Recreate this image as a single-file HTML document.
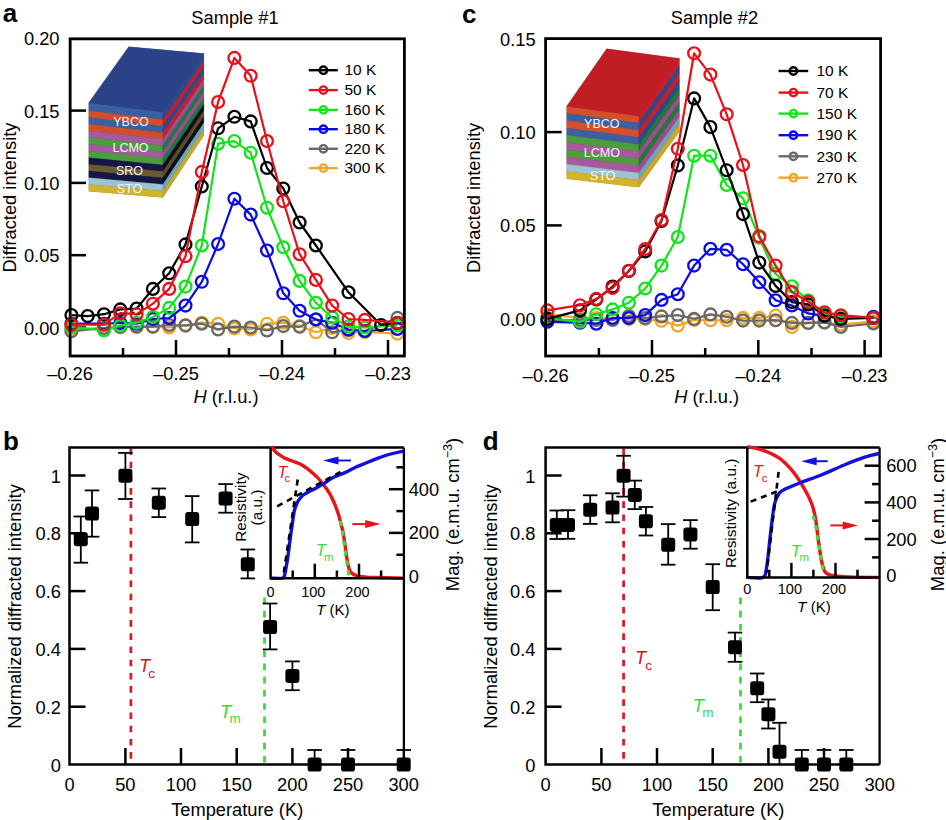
<!DOCTYPE html><html><head><meta charset="utf-8"><style>html,body{margin:0;padding:0;background:#fff;overflow:hidden}svg{display:block}text{font-family:"Liberation Sans",sans-serif}</style></head><body>
<svg width="946" height="820" viewBox="0 0 946 820">
<rect width="946" height="820" fill="#fff"/>
<text x="2.8" y="22.3" font-size="26" font-weight="bold">a</text>
<text x="235" y="24" font-size="18.3" text-anchor="middle">Sample #1</text>
<polygon points="88.8,102.8 128.7,46.8 203.8,53.6 203.8,135.5 162.9,197.4 88.8,191.2" fill="#2c4a8d" stroke="#fff" stroke-width="0.3"/>
<polygon points="88.8,102.8 162.9,112.1 162.9,119.8 88.8,110.8" fill="#3a60a2" stroke="#3a60a2" stroke-width="0.3"/>
<polygon points="162.9,112.1 203.8,53.6 203.8,61.0 162.9,119.8" fill="#2c4a8d" stroke="#2c4a8d" stroke-width="0.3"/>
<polygon points="88.8,110.8 162.9,119.8 162.9,126.3 88.8,117.5" fill="#d24e26" stroke="#d24e26" stroke-width="0.3"/>
<polygon points="162.9,119.8 203.8,61.0 203.8,67.2 162.9,126.3" fill="#c4202c" stroke="#c4202c" stroke-width="0.3"/>
<polygon points="88.8,117.5 162.9,126.3 162.9,132.7 88.8,124.2" fill="#3a60a2" stroke="#3a60a2" stroke-width="0.3"/>
<polygon points="162.9,126.3 203.8,67.2 203.8,73.4 162.9,132.7" fill="#2c4a8d" stroke="#2c4a8d" stroke-width="0.3"/>
<polygon points="88.8,124.2 162.9,132.7 162.9,139.2 88.8,130.9" fill="#d24e26" stroke="#d24e26" stroke-width="0.3"/>
<polygon points="162.9,132.7 203.8,73.4 203.8,79.6 162.9,139.2" fill="#c4202c" stroke="#c4202c" stroke-width="0.3"/>
<polygon points="88.8,130.9 162.9,139.2 162.9,145.7 88.8,137.6" fill="#a65a9e" stroke="#a65a9e" stroke-width="0.3"/>
<polygon points="162.9,139.2 203.8,79.6 203.8,85.8 162.9,145.7" fill="#9e4b91" stroke="#9e4b91" stroke-width="0.3"/>
<polygon points="88.8,137.6 162.9,145.7 162.9,152.1 88.8,144.3" fill="#4a9e3c" stroke="#4a9e3c" stroke-width="0.3"/>
<polygon points="162.9,145.7 203.8,85.8 203.8,92.0 162.9,152.1" fill="#1c7a3a" stroke="#1c7a3a" stroke-width="0.3"/>
<polygon points="88.8,144.3 162.9,152.1 162.9,158.6 88.8,151.0" fill="#a65a9e" stroke="#a65a9e" stroke-width="0.3"/>
<polygon points="162.9,152.1 203.8,92.0 203.8,98.3 162.9,158.6" fill="#9e4b91" stroke="#9e4b91" stroke-width="0.3"/>
<polygon points="88.8,151.0 162.9,158.6 162.9,165.1 88.8,157.7" fill="#4a9e3c" stroke="#4a9e3c" stroke-width="0.3"/>
<polygon points="162.9,158.6 203.8,98.3 203.8,104.5 162.9,165.1" fill="#1c7a3a" stroke="#1c7a3a" stroke-width="0.3"/>
<polygon points="88.8,157.7 162.9,165.1 162.9,171.5 88.8,164.4" fill="#161642" stroke="#161642" stroke-width="0.3"/>
<polygon points="162.9,165.1 203.8,104.5 203.8,110.7 162.9,171.5" fill="#0b0b1a" stroke="#0b0b1a" stroke-width="0.3"/>
<polygon points="88.8,164.4 162.9,171.5 162.9,178.0 88.8,171.1" fill="#6b5a2c" stroke="#6b5a2c" stroke-width="0.3"/>
<polygon points="162.9,171.5 203.8,110.7 203.8,116.9 162.9,178.0" fill="#5c4a25" stroke="#5c4a25" stroke-width="0.3"/>
<polygon points="88.8,171.1 162.9,178.0 162.9,184.5 88.8,177.8" fill="#161642" stroke="#161642" stroke-width="0.3"/>
<polygon points="162.9,178.0 203.8,116.9 203.8,123.1 162.9,184.5" fill="#0b0b1a" stroke="#0b0b1a" stroke-width="0.3"/>
<polygon points="88.8,177.8 162.9,184.5 162.9,190.9 88.8,184.5" fill="#9bc4d0" stroke="#9bc4d0" stroke-width="0.3"/>
<polygon points="162.9,184.5 203.8,123.1 203.8,129.3 162.9,190.9" fill="#6ea5b8" stroke="#6ea5b8" stroke-width="0.3"/>
<polygon points="88.8,184.5 162.9,190.9 162.9,197.4 88.8,191.2" fill="#d2b42c" stroke="#d2b42c" stroke-width="0.3"/>
<polygon points="162.9,190.9 203.8,129.3 203.8,135.5 162.9,197.4" fill="#c9a82a" stroke="#c9a82a" stroke-width="0.3"/>
<polygon points="88.8,102.8 128.7,46.8 203.8,53.6 162.9,112.1" fill="#2b4289" stroke="#2b4289" stroke-width="0.3"/>
<text x="131" y="125.5" font-size="12.5" text-anchor="middle" fill="#f4f6ff">YBCO</text>
<text x="130.5" y="152" font-size="12.5" text-anchor="middle" fill="#f4f6ff">LCMO</text>
<text x="129.5" y="175" font-size="12.5" text-anchor="middle" fill="#f4f6ff">SRO</text>
<text x="129.5" y="193" font-size="12.5" text-anchor="middle" fill="#f4f6ff">STO</text>
<line x1="308.8" y1="70.2" x2="337.8" y2="70.2" stroke="#000" stroke-width="2.4"/>
<circle cx="323.4" cy="70.2" r="3.7" fill="none" stroke="#000" stroke-width="2.4"/>
<text x="344.5" y="75.4" font-size="15.5">10 K</text>
<line x1="308.8" y1="90.1" x2="337.8" y2="90.1" stroke="#e8101a" stroke-width="2.4"/>
<circle cx="323.4" cy="90.1" r="3.7" fill="none" stroke="#e8101a" stroke-width="2.4"/>
<text x="344.5" y="95.3" font-size="15.5">50 K</text>
<line x1="308.8" y1="109.9" x2="337.8" y2="109.9" stroke="#12e41a" stroke-width="2.4"/>
<circle cx="323.4" cy="109.9" r="3.7" fill="none" stroke="#12e41a" stroke-width="2.4"/>
<text x="344.5" y="115.10000000000001" font-size="15.5">160 K</text>
<line x1="308.8" y1="129.2" x2="337.8" y2="129.2" stroke="#0a0ae6" stroke-width="2.4"/>
<circle cx="323.4" cy="129.2" r="3.7" fill="none" stroke="#0a0ae6" stroke-width="2.4"/>
<text x="344.5" y="134.39999999999998" font-size="15.5">180 K</text>
<line x1="308.8" y1="148.8" x2="337.8" y2="148.8" stroke="#686868" stroke-width="2.4"/>
<circle cx="323.4" cy="148.8" r="3.7" fill="none" stroke="#686868" stroke-width="2.4"/>
<text x="344.5" y="154.0" font-size="15.5">220 K</text>
<line x1="308.8" y1="168.1" x2="337.8" y2="168.1" stroke="#f2a526" stroke-width="2.4"/>
<circle cx="323.4" cy="168.1" r="3.7" fill="none" stroke="#f2a526" stroke-width="2.4"/>
<text x="344.5" y="173.29999999999998" font-size="15.5">300 K</text>
<rect x="70.1" y="38.9" width="334.2" height="317.1" fill="none" stroke="#000" stroke-width="2.5"/>
<line x1="70.1" y1="327.5" x2="86.1" y2="327.5" stroke="#000" stroke-width="2.5"/>
<text x="59.5" y="334.5" font-size="18.3" text-anchor="end">0.00</text>
<line x1="70.1" y1="255.2" x2="86.1" y2="255.2" stroke="#000" stroke-width="2.5"/>
<text x="59.5" y="262.2" font-size="18.3" text-anchor="end">0.05</text>
<line x1="70.1" y1="182.9" x2="86.1" y2="182.9" stroke="#000" stroke-width="2.5"/>
<text x="59.5" y="189.9" font-size="18.3" text-anchor="end">0.10</text>
<line x1="70.1" y1="110.6" x2="86.1" y2="110.6" stroke="#000" stroke-width="2.5"/>
<text x="59.5" y="117.6" font-size="18.3" text-anchor="end">0.15</text>
<text x="59.5" y="45.30000000000001" font-size="18.3" text-anchor="end">0.20</text>
<text x="70" y="380" font-size="18.3" text-anchor="middle">–0.26</text>
<line x1="123.0" y1="356.0" x2="123.0" y2="348.0" stroke="#000" stroke-width="2.5"/>
<line x1="176.0" y1="356.0" x2="176.0" y2="340.0" stroke="#000" stroke-width="2.5"/>
<text x="176" y="380" font-size="18.3" text-anchor="middle">–0.25</text>
<line x1="229.0" y1="356.0" x2="229.0" y2="348.0" stroke="#000" stroke-width="2.5"/>
<line x1="282.0" y1="356.0" x2="282.0" y2="340.0" stroke="#000" stroke-width="2.5"/>
<text x="282" y="380" font-size="18.3" text-anchor="middle">–0.24</text>
<line x1="335.0" y1="356.0" x2="335.0" y2="348.0" stroke="#000" stroke-width="2.5"/>
<line x1="388.0" y1="356.0" x2="388.0" y2="340.0" stroke="#000" stroke-width="2.5"/>
<text x="388" y="380" font-size="18.3" text-anchor="middle">–0.23</text>
<g stroke="#f2a526" fill="none"><polyline points="71.4,329.0 104.0,328.0 120.3,327.0 136.6,327.0 152.9,327.0 169.2,327.5 185.5,325.0 201.8,322.7 218.1,323.7 234.4,328.5 250.7,329.5 267.0,323.7 283.3,322.7 299.6,326.0 315.9,332.3 332.2,328.0 348.5,333.0 364.8,332.0 397.4,333.7" stroke-width="2.2" stroke-linejoin="round"/>
<circle cx="71.4" cy="329.0" r="5.9" stroke-width="2.3"/>
<circle cx="104.0" cy="328.0" r="5.9" stroke-width="2.3"/>
<circle cx="120.3" cy="327.0" r="5.9" stroke-width="2.3"/>
<circle cx="136.6" cy="327.0" r="5.9" stroke-width="2.3"/>
<circle cx="152.9" cy="327.0" r="5.9" stroke-width="2.3"/>
<circle cx="169.2" cy="327.5" r="5.9" stroke-width="2.3"/>
<circle cx="185.5" cy="325.0" r="5.9" stroke-width="2.3"/>
<circle cx="201.8" cy="322.7" r="5.9" stroke-width="2.3"/>
<circle cx="218.1" cy="323.7" r="5.9" stroke-width="2.3"/>
<circle cx="234.4" cy="328.5" r="5.9" stroke-width="2.3"/>
<circle cx="250.7" cy="329.5" r="5.9" stroke-width="2.3"/>
<circle cx="267.0" cy="323.7" r="5.9" stroke-width="2.3"/>
<circle cx="283.3" cy="322.7" r="5.9" stroke-width="2.3"/>
<circle cx="299.6" cy="326.0" r="5.9" stroke-width="2.3"/>
<circle cx="315.9" cy="332.3" r="5.9" stroke-width="2.3"/>
<circle cx="332.2" cy="328.0" r="5.9" stroke-width="2.3"/>
<circle cx="348.5" cy="333.0" r="5.9" stroke-width="2.3"/>
<circle cx="364.8" cy="332.0" r="5.9" stroke-width="2.3"/>
<circle cx="397.4" cy="333.7" r="5.9" stroke-width="2.3"/>
</g>
<g stroke="#686868" fill="none"><polyline points="71.4,331.3 104.0,328.0 120.3,327.0 136.6,326.5 152.9,326.6 169.2,325.0 185.5,325.6 201.8,323.7 218.1,329.4 234.4,326.6 250.7,327.5 267.0,330.4 283.3,326.1 299.6,326.8 315.9,319.2 332.2,332.3 348.5,330.0 364.8,331.0 397.4,317.9" stroke-width="2.2" stroke-linejoin="round"/>
<circle cx="71.4" cy="331.3" r="5.9" stroke-width="2.3"/>
<circle cx="104.0" cy="328.0" r="5.9" stroke-width="2.3"/>
<circle cx="120.3" cy="327.0" r="5.9" stroke-width="2.3"/>
<circle cx="136.6" cy="326.5" r="5.9" stroke-width="2.3"/>
<circle cx="152.9" cy="326.6" r="5.9" stroke-width="2.3"/>
<circle cx="169.2" cy="325.0" r="5.9" stroke-width="2.3"/>
<circle cx="185.5" cy="325.6" r="5.9" stroke-width="2.3"/>
<circle cx="201.8" cy="323.7" r="5.9" stroke-width="2.3"/>
<circle cx="218.1" cy="329.4" r="5.9" stroke-width="2.3"/>
<circle cx="234.4" cy="326.6" r="5.9" stroke-width="2.3"/>
<circle cx="250.7" cy="327.5" r="5.9" stroke-width="2.3"/>
<circle cx="267.0" cy="330.4" r="5.9" stroke-width="2.3"/>
<circle cx="283.3" cy="326.1" r="5.9" stroke-width="2.3"/>
<circle cx="299.6" cy="326.8" r="5.9" stroke-width="2.3"/>
<circle cx="315.9" cy="319.2" r="5.9" stroke-width="2.3"/>
<circle cx="332.2" cy="332.3" r="5.9" stroke-width="2.3"/>
<circle cx="348.5" cy="330.0" r="5.9" stroke-width="2.3"/>
<circle cx="364.8" cy="331.0" r="5.9" stroke-width="2.3"/>
<circle cx="397.4" cy="317.9" r="5.9" stroke-width="2.3"/>
</g>
<g stroke="#0a0ae6" fill="none"><polyline points="71.4,323.7 104.0,323.7 120.3,323.0 136.6,323.7 152.9,319.0 169.2,318.0 185.5,305.6 201.8,281.8 218.1,244.0 234.4,198.7 250.7,214.6 267.0,250.5 283.3,293.3 299.6,310.8 315.9,319.5 332.2,322.8 348.5,329.5 364.8,331.0 397.4,328.9" stroke-width="2.2" stroke-linejoin="round"/>
<circle cx="71.4" cy="323.7" r="5.9" stroke-width="2.3"/>
<circle cx="104.0" cy="323.7" r="5.9" stroke-width="2.3"/>
<circle cx="120.3" cy="323.0" r="5.9" stroke-width="2.3"/>
<circle cx="136.6" cy="323.7" r="5.9" stroke-width="2.3"/>
<circle cx="152.9" cy="319.0" r="5.9" stroke-width="2.3"/>
<circle cx="169.2" cy="318.0" r="5.9" stroke-width="2.3"/>
<circle cx="185.5" cy="305.6" r="5.9" stroke-width="2.3"/>
<circle cx="201.8" cy="281.8" r="5.9" stroke-width="2.3"/>
<circle cx="218.1" cy="244.0" r="5.9" stroke-width="2.3"/>
<circle cx="234.4" cy="198.7" r="5.9" stroke-width="2.3"/>
<circle cx="250.7" cy="214.6" r="5.9" stroke-width="2.3"/>
<circle cx="267.0" cy="250.5" r="5.9" stroke-width="2.3"/>
<circle cx="283.3" cy="293.3" r="5.9" stroke-width="2.3"/>
<circle cx="299.6" cy="310.8" r="5.9" stroke-width="2.3"/>
<circle cx="315.9" cy="319.5" r="5.9" stroke-width="2.3"/>
<circle cx="332.2" cy="322.8" r="5.9" stroke-width="2.3"/>
<circle cx="348.5" cy="329.5" r="5.9" stroke-width="2.3"/>
<circle cx="364.8" cy="331.0" r="5.9" stroke-width="2.3"/>
<circle cx="397.4" cy="328.9" r="5.9" stroke-width="2.3"/>
</g>
<g stroke="#12e41a" fill="none"><polyline points="71.4,327.0 104.0,330.4 120.3,325.6 136.6,322.7 152.9,317.0 169.2,307.9 185.5,286.6 201.8,245.5 218.1,143.7 234.4,141.1 250.7,152.7 267.0,207.7 283.3,247.3 299.6,280.9 315.9,302.8 332.2,317.5 348.5,326.5 364.8,327.5 397.4,325.4" stroke-width="2.2" stroke-linejoin="round"/>
<circle cx="71.4" cy="327.0" r="5.9" stroke-width="2.3"/>
<circle cx="104.0" cy="330.4" r="5.9" stroke-width="2.3"/>
<circle cx="120.3" cy="325.6" r="5.9" stroke-width="2.3"/>
<circle cx="136.6" cy="322.7" r="5.9" stroke-width="2.3"/>
<circle cx="152.9" cy="317.0" r="5.9" stroke-width="2.3"/>
<circle cx="169.2" cy="307.9" r="5.9" stroke-width="2.3"/>
<circle cx="185.5" cy="286.6" r="5.9" stroke-width="2.3"/>
<circle cx="201.8" cy="245.5" r="5.9" stroke-width="2.3"/>
<circle cx="218.1" cy="143.7" r="5.9" stroke-width="2.3"/>
<circle cx="234.4" cy="141.1" r="5.9" stroke-width="2.3"/>
<circle cx="250.7" cy="152.7" r="5.9" stroke-width="2.3"/>
<circle cx="267.0" cy="207.7" r="5.9" stroke-width="2.3"/>
<circle cx="283.3" cy="247.3" r="5.9" stroke-width="2.3"/>
<circle cx="299.6" cy="280.9" r="5.9" stroke-width="2.3"/>
<circle cx="315.9" cy="302.8" r="5.9" stroke-width="2.3"/>
<circle cx="332.2" cy="317.5" r="5.9" stroke-width="2.3"/>
<circle cx="348.5" cy="326.5" r="5.9" stroke-width="2.3"/>
<circle cx="364.8" cy="327.5" r="5.9" stroke-width="2.3"/>
<circle cx="397.4" cy="325.4" r="5.9" stroke-width="2.3"/>
</g>
<g stroke="#000" fill="none"><polyline points="71.4,315.1 87.7,316.1 104.0,314.2 120.3,309.4 136.6,308.5 152.9,288.9 169.2,273.3 185.5,244.4 201.8,186.5 218.1,128.3 234.4,116.8 250.7,121.4 267.0,168.0 283.3,188.5 299.6,222.5 315.9,245.5 348.5,292.3 381.1,325.0 397.4,323.0" stroke-width="2.2" stroke-linejoin="round"/>
<circle cx="71.4" cy="315.1" r="5.9" stroke-width="2.3"/>
<circle cx="87.7" cy="316.1" r="5.9" stroke-width="2.3"/>
<circle cx="104.0" cy="314.2" r="5.9" stroke-width="2.3"/>
<circle cx="120.3" cy="309.4" r="5.9" stroke-width="2.3"/>
<circle cx="136.6" cy="308.5" r="5.9" stroke-width="2.3"/>
<circle cx="152.9" cy="288.9" r="5.9" stroke-width="2.3"/>
<circle cx="169.2" cy="273.3" r="5.9" stroke-width="2.3"/>
<circle cx="185.5" cy="244.4" r="5.9" stroke-width="2.3"/>
<circle cx="201.8" cy="186.5" r="5.9" stroke-width="2.3"/>
<circle cx="218.1" cy="128.3" r="5.9" stroke-width="2.3"/>
<circle cx="234.4" cy="116.8" r="5.9" stroke-width="2.3"/>
<circle cx="250.7" cy="121.4" r="5.9" stroke-width="2.3"/>
<circle cx="267.0" cy="168.0" r="5.9" stroke-width="2.3"/>
<circle cx="283.3" cy="188.5" r="5.9" stroke-width="2.3"/>
<circle cx="299.6" cy="222.5" r="5.9" stroke-width="2.3"/>
<circle cx="315.9" cy="245.5" r="5.9" stroke-width="2.3"/>
<circle cx="348.5" cy="292.3" r="5.9" stroke-width="2.3"/>
<circle cx="381.1" cy="325.0" r="5.9" stroke-width="2.3"/>
<circle cx="397.4" cy="323.0" r="5.9" stroke-width="2.3"/>
</g>
<g stroke="#e8101a" fill="none"><polyline points="71.4,324.7 104.0,324.7 120.3,313.2 136.6,314.2 152.9,303.7 169.2,288.9 185.5,256.2 201.8,171.9 218.1,102.0 234.4,57.9 250.7,75.8 267.0,141.1 283.3,201.3 299.6,254.2 315.9,279.9 332.2,305.6 348.5,319.0 364.8,319.9 397.4,322.7" stroke-width="2.2" stroke-linejoin="round"/>
<circle cx="71.4" cy="324.7" r="5.9" stroke-width="2.3"/>
<circle cx="104.0" cy="324.7" r="5.9" stroke-width="2.3"/>
<circle cx="120.3" cy="313.2" r="5.9" stroke-width="2.3"/>
<circle cx="136.6" cy="314.2" r="5.9" stroke-width="2.3"/>
<circle cx="152.9" cy="303.7" r="5.9" stroke-width="2.3"/>
<circle cx="169.2" cy="288.9" r="5.9" stroke-width="2.3"/>
<circle cx="185.5" cy="256.2" r="5.9" stroke-width="2.3"/>
<circle cx="201.8" cy="171.9" r="5.9" stroke-width="2.3"/>
<circle cx="218.1" cy="102.0" r="5.9" stroke-width="2.3"/>
<circle cx="234.4" cy="57.9" r="5.9" stroke-width="2.3"/>
<circle cx="250.7" cy="75.8" r="5.9" stroke-width="2.3"/>
<circle cx="267.0" cy="141.1" r="5.9" stroke-width="2.3"/>
<circle cx="283.3" cy="201.3" r="5.9" stroke-width="2.3"/>
<circle cx="299.6" cy="254.2" r="5.9" stroke-width="2.3"/>
<circle cx="315.9" cy="279.9" r="5.9" stroke-width="2.3"/>
<circle cx="332.2" cy="305.6" r="5.9" stroke-width="2.3"/>
<circle cx="348.5" cy="319.0" r="5.9" stroke-width="2.3"/>
<circle cx="364.8" cy="319.9" r="5.9" stroke-width="2.3"/>
<circle cx="397.4" cy="322.7" r="5.9" stroke-width="2.3"/>
</g>
<rect x="70.1" y="38.9" width="334.2" height="317.1" fill="none" stroke="#000" stroke-width="2.5"/>
<text x="226" y="403" font-size="18.3" text-anchor="middle"><tspan font-style="italic">H</tspan> (r.l.u.)</text>
<text x="15.8" y="197.6" font-size="18.3" text-anchor="middle" transform="rotate(-90 15.8 197.6)">Diffracted intensity</text>
<text x="462" y="23" font-size="26" font-weight="bold">c</text>
<text x="714.4" y="24" font-size="18.3" text-anchor="middle">Sample #2</text>
<polygon points="566.7,106.3 606.7,48.8 679.4,58.5 679.4,131.6 638.8,187.2 566.7,178.8" fill="#c4202c" stroke="#fff" stroke-width="0.3"/>
<polygon points="566.7,106.3 638.8,116.0 638.8,123.1 566.7,113.5" fill="#d4502a" stroke="#d4502a" stroke-width="0.3"/>
<polygon points="638.8,116.0 679.4,58.5 679.4,65.8 638.8,123.1" fill="#c4202c" stroke="#c4202c" stroke-width="0.3"/>
<polygon points="566.7,113.5 638.8,123.1 638.8,130.2 566.7,120.8" fill="#3a60a2" stroke="#3a60a2" stroke-width="0.3"/>
<polygon points="638.8,123.1 679.4,65.8 679.4,73.1 638.8,130.2" fill="#2c4a8d" stroke="#2c4a8d" stroke-width="0.3"/>
<polygon points="566.7,120.8 638.8,130.2 638.8,137.4 566.7,128.1" fill="#d4502a" stroke="#d4502a" stroke-width="0.3"/>
<polygon points="638.8,130.2 679.4,73.1 679.4,80.4 638.8,137.4" fill="#c4202c" stroke="#c4202c" stroke-width="0.3"/>
<polygon points="566.7,128.1 638.8,137.4 638.8,144.5 566.7,135.3" fill="#3a60a2" stroke="#3a60a2" stroke-width="0.3"/>
<polygon points="638.8,137.4 679.4,80.4 679.4,87.7 638.8,144.5" fill="#2c4a8d" stroke="#2c4a8d" stroke-width="0.3"/>
<polygon points="566.7,135.3 638.8,144.5 638.8,151.6 566.7,142.6" fill="#4a9e3c" stroke="#4a9e3c" stroke-width="0.3"/>
<polygon points="638.8,144.5 679.4,87.7 679.4,95.0 638.8,151.6" fill="#1c7a3a" stroke="#1c7a3a" stroke-width="0.3"/>
<polygon points="566.7,142.6 638.8,151.6 638.8,158.7 566.7,149.8" fill="#a65a9e" stroke="#a65a9e" stroke-width="0.3"/>
<polygon points="638.8,151.6 679.4,95.0 679.4,102.4 638.8,158.7" fill="#9e4b91" stroke="#9e4b91" stroke-width="0.3"/>
<polygon points="566.7,149.8 638.8,158.7 638.8,165.8 566.7,157.1" fill="#4a9e3c" stroke="#4a9e3c" stroke-width="0.3"/>
<polygon points="638.8,158.7 679.4,102.4 679.4,109.7 638.8,165.8" fill="#1c7a3a" stroke="#1c7a3a" stroke-width="0.3"/>
<polygon points="566.7,157.1 638.8,165.8 638.8,173.0 566.7,164.3" fill="#a65a9e" stroke="#a65a9e" stroke-width="0.3"/>
<polygon points="638.8,165.8 679.4,109.7 679.4,117.0 638.8,173.0" fill="#9e4b91" stroke="#9e4b91" stroke-width="0.3"/>
<polygon points="566.7,164.3 638.8,173.0 638.8,180.1 566.7,171.6" fill="#9bc4d0" stroke="#9bc4d0" stroke-width="0.3"/>
<polygon points="638.8,173.0 679.4,117.0 679.4,124.3 638.8,180.1" fill="#6ea5b8" stroke="#6ea5b8" stroke-width="0.3"/>
<polygon points="566.7,171.6 638.8,180.1 638.8,187.2 566.7,178.8" fill="#d2b42c" stroke="#d2b42c" stroke-width="0.3"/>
<polygon points="638.8,180.1 679.4,124.3 679.4,131.6 638.8,187.2" fill="#c9a82a" stroke="#c9a82a" stroke-width="0.3"/>
<polygon points="566.7,106.3 606.7,48.8 679.4,58.5 638.8,116.0" fill="#be1e24" stroke="#be1e24" stroke-width="0.3"/>
<text x="601.8" y="128.3" font-size="12.5" text-anchor="middle" fill="#f4f6ff">YBCO</text>
<text x="601.8" y="157" font-size="12.5" text-anchor="middle" fill="#f4f6ff">LCMO</text>
<text x="602.8" y="180" font-size="12.5" text-anchor="middle" fill="#f4f6ff">STO</text>
<line x1="778.6" y1="71.0" x2="808.2" y2="71.0" stroke="#000" stroke-width="2.4"/>
<circle cx="793.4" cy="71" r="3.7" fill="none" stroke="#000" stroke-width="2.4"/>
<text x="816.5" y="76.2" font-size="15.5">10 K</text>
<line x1="778.6" y1="92.6" x2="808.2" y2="92.6" stroke="#e8101a" stroke-width="2.4"/>
<circle cx="793.4" cy="92.6" r="3.7" fill="none" stroke="#e8101a" stroke-width="2.4"/>
<text x="816.5" y="97.8" font-size="15.5">70 K</text>
<line x1="778.6" y1="113.6" x2="808.2" y2="113.6" stroke="#12e41a" stroke-width="2.4"/>
<circle cx="793.4" cy="113.6" r="3.7" fill="none" stroke="#12e41a" stroke-width="2.4"/>
<text x="816.5" y="118.8" font-size="15.5">150 K</text>
<line x1="778.6" y1="135.2" x2="808.2" y2="135.2" stroke="#0a0ae6" stroke-width="2.4"/>
<circle cx="793.4" cy="135.2" r="3.7" fill="none" stroke="#0a0ae6" stroke-width="2.4"/>
<text x="816.5" y="140.39999999999998" font-size="15.5">190 K</text>
<line x1="778.6" y1="156.3" x2="808.2" y2="156.3" stroke="#686868" stroke-width="2.4"/>
<circle cx="793.4" cy="156.3" r="3.7" fill="none" stroke="#686868" stroke-width="2.4"/>
<text x="816.5" y="161.5" font-size="15.5">230 K</text>
<line x1="778.6" y1="177.7" x2="808.2" y2="177.7" stroke="#f2a526" stroke-width="2.4"/>
<circle cx="793.4" cy="177.7" r="3.7" fill="none" stroke="#f2a526" stroke-width="2.4"/>
<text x="816.5" y="182.89999999999998" font-size="15.5">270 K</text>
<rect x="545.7" y="38.7" width="335.0" height="317.3" fill="none" stroke="#000" stroke-width="2.5"/>
<line x1="545.7" y1="318.7" x2="561.7" y2="318.7" stroke="#000" stroke-width="2.5"/>
<text x="535.7" y="325.7" font-size="18.3" text-anchor="end">0.00</text>
<line x1="545.7" y1="225.4" x2="561.7" y2="225.4" stroke="#000" stroke-width="2.5"/>
<text x="535.7" y="232.39999999999998" font-size="18.3" text-anchor="end">0.05</text>
<line x1="545.7" y1="132.1" x2="561.7" y2="132.1" stroke="#000" stroke-width="2.5"/>
<text x="535.7" y="139.09999999999997" font-size="18.3" text-anchor="end">0.10</text>
<text x="535.7" y="45.80000000000001" font-size="18.3" text-anchor="end">0.15</text>
<text x="545.7" y="381.5" font-size="18.3" text-anchor="middle">–0.26</text>
<line x1="598.9" y1="356.0" x2="598.9" y2="348.0" stroke="#000" stroke-width="2.5"/>
<line x1="652.0" y1="356.0" x2="652.0" y2="340.0" stroke="#000" stroke-width="2.5"/>
<text x="652.0" y="381.5" font-size="18.3" text-anchor="middle">–0.25</text>
<line x1="705.2" y1="356.0" x2="705.2" y2="348.0" stroke="#000" stroke-width="2.5"/>
<line x1="758.3" y1="356.0" x2="758.3" y2="340.0" stroke="#000" stroke-width="2.5"/>
<text x="758.3000000000001" y="381.5" font-size="18.3" text-anchor="middle">–0.24</text>
<line x1="811.5" y1="356.0" x2="811.5" y2="348.0" stroke="#000" stroke-width="2.5"/>
<line x1="864.6" y1="356.0" x2="864.6" y2="340.0" stroke="#000" stroke-width="2.5"/>
<text x="864.6" y="381.5" font-size="18.3" text-anchor="middle">–0.23</text>
<g stroke="#f2a526" fill="none"><polyline points="547.4,314.2 580.0,318.0 596.3,318.0 612.6,318.0 628.9,319.0 645.2,319.0 661.5,320.8 677.8,325.6 694.1,319.9 710.4,320.3 726.7,320.2 743.0,317.9 759.3,317.9 775.6,315.6 791.9,326.9 808.2,322.9 824.5,322.4 840.8,324.7 873.4,321.3" stroke-width="2.2" stroke-linejoin="round"/>
<circle cx="547.4" cy="314.2" r="5.9" stroke-width="2.3"/>
<circle cx="580.0" cy="318.0" r="5.9" stroke-width="2.3"/>
<circle cx="596.3" cy="318.0" r="5.9" stroke-width="2.3"/>
<circle cx="612.6" cy="318.0" r="5.9" stroke-width="2.3"/>
<circle cx="628.9" cy="319.0" r="5.9" stroke-width="2.3"/>
<circle cx="645.2" cy="319.0" r="5.9" stroke-width="2.3"/>
<circle cx="661.5" cy="320.8" r="5.9" stroke-width="2.3"/>
<circle cx="677.8" cy="325.6" r="5.9" stroke-width="2.3"/>
<circle cx="694.1" cy="319.9" r="5.9" stroke-width="2.3"/>
<circle cx="710.4" cy="320.3" r="5.9" stroke-width="2.3"/>
<circle cx="726.7" cy="320.2" r="5.9" stroke-width="2.3"/>
<circle cx="743.0" cy="317.9" r="5.9" stroke-width="2.3"/>
<circle cx="759.3" cy="317.9" r="5.9" stroke-width="2.3"/>
<circle cx="775.6" cy="315.6" r="5.9" stroke-width="2.3"/>
<circle cx="791.9" cy="326.9" r="5.9" stroke-width="2.3"/>
<circle cx="808.2" cy="322.9" r="5.9" stroke-width="2.3"/>
<circle cx="824.5" cy="322.4" r="5.9" stroke-width="2.3"/>
<circle cx="840.8" cy="324.7" r="5.9" stroke-width="2.3"/>
<circle cx="873.4" cy="321.3" r="5.9" stroke-width="2.3"/>
</g>
<g stroke="#686868" fill="none"><polyline points="547.4,320.0 580.0,320.0 596.3,320.0 612.6,319.9 628.9,316.0 645.2,318.0 661.5,316.4 677.8,315.1 694.1,318.9 710.4,314.4 726.7,316.8 743.0,320.6 759.3,320.6 775.6,320.2 791.9,322.9 808.2,322.9 824.5,322.4 840.8,326.9 873.4,323.5" stroke-width="2.2" stroke-linejoin="round"/>
<circle cx="547.4" cy="320.0" r="5.9" stroke-width="2.3"/>
<circle cx="580.0" cy="320.0" r="5.9" stroke-width="2.3"/>
<circle cx="596.3" cy="320.0" r="5.9" stroke-width="2.3"/>
<circle cx="612.6" cy="319.9" r="5.9" stroke-width="2.3"/>
<circle cx="628.9" cy="316.0" r="5.9" stroke-width="2.3"/>
<circle cx="645.2" cy="318.0" r="5.9" stroke-width="2.3"/>
<circle cx="661.5" cy="316.4" r="5.9" stroke-width="2.3"/>
<circle cx="677.8" cy="315.1" r="5.9" stroke-width="2.3"/>
<circle cx="694.1" cy="318.9" r="5.9" stroke-width="2.3"/>
<circle cx="710.4" cy="314.4" r="5.9" stroke-width="2.3"/>
<circle cx="726.7" cy="316.8" r="5.9" stroke-width="2.3"/>
<circle cx="743.0" cy="320.6" r="5.9" stroke-width="2.3"/>
<circle cx="759.3" cy="320.6" r="5.9" stroke-width="2.3"/>
<circle cx="775.6" cy="320.2" r="5.9" stroke-width="2.3"/>
<circle cx="791.9" cy="322.9" r="5.9" stroke-width="2.3"/>
<circle cx="808.2" cy="322.9" r="5.9" stroke-width="2.3"/>
<circle cx="824.5" cy="322.4" r="5.9" stroke-width="2.3"/>
<circle cx="840.8" cy="326.9" r="5.9" stroke-width="2.3"/>
<circle cx="873.4" cy="323.5" r="5.9" stroke-width="2.3"/>
</g>
<g stroke="#0a0ae6" fill="none"><polyline points="547.4,321.8 580.0,322.7 596.3,323.7 612.6,318.0 628.9,318.0 645.2,315.1 661.5,299.9 677.8,294.2 694.1,265.6 710.4,248.8 726.7,249.8 743.0,264.2 759.3,282.3 775.6,300.3 791.9,305.5 808.2,313.4 824.5,316.0 840.8,318.0 873.4,316.8" stroke-width="2.2" stroke-linejoin="round"/>
<circle cx="547.4" cy="321.8" r="5.9" stroke-width="2.3"/>
<circle cx="580.0" cy="322.7" r="5.9" stroke-width="2.3"/>
<circle cx="596.3" cy="323.7" r="5.9" stroke-width="2.3"/>
<circle cx="612.6" cy="318.0" r="5.9" stroke-width="2.3"/>
<circle cx="628.9" cy="318.0" r="5.9" stroke-width="2.3"/>
<circle cx="645.2" cy="315.1" r="5.9" stroke-width="2.3"/>
<circle cx="661.5" cy="299.9" r="5.9" stroke-width="2.3"/>
<circle cx="677.8" cy="294.2" r="5.9" stroke-width="2.3"/>
<circle cx="694.1" cy="265.6" r="5.9" stroke-width="2.3"/>
<circle cx="710.4" cy="248.8" r="5.9" stroke-width="2.3"/>
<circle cx="726.7" cy="249.8" r="5.9" stroke-width="2.3"/>
<circle cx="743.0" cy="264.2" r="5.9" stroke-width="2.3"/>
<circle cx="759.3" cy="282.3" r="5.9" stroke-width="2.3"/>
<circle cx="775.6" cy="300.3" r="5.9" stroke-width="2.3"/>
<circle cx="791.9" cy="305.5" r="5.9" stroke-width="2.3"/>
<circle cx="808.2" cy="313.4" r="5.9" stroke-width="2.3"/>
<circle cx="824.5" cy="316.0" r="5.9" stroke-width="2.3"/>
<circle cx="840.8" cy="318.0" r="5.9" stroke-width="2.3"/>
<circle cx="873.4" cy="316.8" r="5.9" stroke-width="2.3"/>
</g>
<g stroke="#12e41a" fill="none"><polyline points="547.4,318.0 580.0,321.8 596.3,314.2 612.6,309.4 628.9,302.7 645.2,288.5 661.5,265.6 677.8,237.0 694.1,155.7 710.4,155.7 726.7,185.0 743.0,198.3 759.3,237.8 775.6,273.9 791.9,286.3 808.2,300.3 824.5,313.4 840.8,316.8 873.4,317.9" stroke-width="2.2" stroke-linejoin="round"/>
<circle cx="547.4" cy="318.0" r="5.9" stroke-width="2.3"/>
<circle cx="580.0" cy="321.8" r="5.9" stroke-width="2.3"/>
<circle cx="596.3" cy="314.2" r="5.9" stroke-width="2.3"/>
<circle cx="612.6" cy="309.4" r="5.9" stroke-width="2.3"/>
<circle cx="628.9" cy="302.7" r="5.9" stroke-width="2.3"/>
<circle cx="645.2" cy="288.5" r="5.9" stroke-width="2.3"/>
<circle cx="661.5" cy="265.6" r="5.9" stroke-width="2.3"/>
<circle cx="677.8" cy="237.0" r="5.9" stroke-width="2.3"/>
<circle cx="694.1" cy="155.7" r="5.9" stroke-width="2.3"/>
<circle cx="710.4" cy="155.7" r="5.9" stroke-width="2.3"/>
<circle cx="726.7" cy="185.0" r="5.9" stroke-width="2.3"/>
<circle cx="743.0" cy="198.3" r="5.9" stroke-width="2.3"/>
<circle cx="759.3" cy="237.8" r="5.9" stroke-width="2.3"/>
<circle cx="775.6" cy="273.9" r="5.9" stroke-width="2.3"/>
<circle cx="791.9" cy="286.3" r="5.9" stroke-width="2.3"/>
<circle cx="808.2" cy="300.3" r="5.9" stroke-width="2.3"/>
<circle cx="824.5" cy="313.4" r="5.9" stroke-width="2.3"/>
<circle cx="840.8" cy="316.8" r="5.9" stroke-width="2.3"/>
<circle cx="873.4" cy="317.9" r="5.9" stroke-width="2.3"/>
</g>
<g stroke="#000" fill="none"><polyline points="547.4,318.9 580.0,310.4 596.3,299.5 612.6,286.6 628.9,271.0 645.2,251.4 661.5,221.0 677.8,165.5 694.1,98.4 710.4,127.1 726.7,170.2 743.0,214.1 759.3,262.6 775.6,285.9 791.9,302.1 808.2,304.4 824.5,315.6 840.8,319.0 873.4,317.9" stroke-width="2.2" stroke-linejoin="round"/>
<circle cx="547.4" cy="318.9" r="5.9" stroke-width="2.3"/>
<circle cx="580.0" cy="310.4" r="5.9" stroke-width="2.3"/>
<circle cx="596.3" cy="299.5" r="5.9" stroke-width="2.3"/>
<circle cx="612.6" cy="286.6" r="5.9" stroke-width="2.3"/>
<circle cx="628.9" cy="271.0" r="5.9" stroke-width="2.3"/>
<circle cx="645.2" cy="251.4" r="5.9" stroke-width="2.3"/>
<circle cx="661.5" cy="221.0" r="5.9" stroke-width="2.3"/>
<circle cx="677.8" cy="165.5" r="5.9" stroke-width="2.3"/>
<circle cx="694.1" cy="98.4" r="5.9" stroke-width="2.3"/>
<circle cx="710.4" cy="127.1" r="5.9" stroke-width="2.3"/>
<circle cx="726.7" cy="170.2" r="5.9" stroke-width="2.3"/>
<circle cx="743.0" cy="214.1" r="5.9" stroke-width="2.3"/>
<circle cx="759.3" cy="262.6" r="5.9" stroke-width="2.3"/>
<circle cx="775.6" cy="285.9" r="5.9" stroke-width="2.3"/>
<circle cx="791.9" cy="302.1" r="5.9" stroke-width="2.3"/>
<circle cx="808.2" cy="304.4" r="5.9" stroke-width="2.3"/>
<circle cx="824.5" cy="315.6" r="5.9" stroke-width="2.3"/>
<circle cx="840.8" cy="319.0" r="5.9" stroke-width="2.3"/>
<circle cx="873.4" cy="317.9" r="5.9" stroke-width="2.3"/>
</g>
<g stroke="#e8101a" fill="none"><polyline points="547.4,310.4 580.0,305.2 596.3,298.9 612.6,287.9 628.9,270.8 645.2,249.0 661.5,220.0 677.8,148.8 694.1,53.3 710.4,74.6 726.7,114.3 743.0,165.0 759.3,236.3 775.6,265.6 791.9,292.0 808.2,301.7 824.5,312.3 840.8,315.2 873.4,317.9" stroke-width="2.2" stroke-linejoin="round"/>
<circle cx="547.4" cy="310.4" r="5.9" stroke-width="2.3"/>
<circle cx="580.0" cy="305.2" r="5.9" stroke-width="2.3"/>
<circle cx="596.3" cy="298.9" r="5.9" stroke-width="2.3"/>
<circle cx="612.6" cy="287.9" r="5.9" stroke-width="2.3"/>
<circle cx="628.9" cy="270.8" r="5.9" stroke-width="2.3"/>
<circle cx="645.2" cy="249.0" r="5.9" stroke-width="2.3"/>
<circle cx="661.5" cy="220.0" r="5.9" stroke-width="2.3"/>
<circle cx="677.8" cy="148.8" r="5.9" stroke-width="2.3"/>
<circle cx="694.1" cy="53.3" r="5.9" stroke-width="2.3"/>
<circle cx="710.4" cy="74.6" r="5.9" stroke-width="2.3"/>
<circle cx="726.7" cy="114.3" r="5.9" stroke-width="2.3"/>
<circle cx="743.0" cy="165.0" r="5.9" stroke-width="2.3"/>
<circle cx="759.3" cy="236.3" r="5.9" stroke-width="2.3"/>
<circle cx="775.6" cy="265.6" r="5.9" stroke-width="2.3"/>
<circle cx="791.9" cy="292.0" r="5.9" stroke-width="2.3"/>
<circle cx="808.2" cy="301.7" r="5.9" stroke-width="2.3"/>
<circle cx="824.5" cy="312.3" r="5.9" stroke-width="2.3"/>
<circle cx="840.8" cy="315.2" r="5.9" stroke-width="2.3"/>
<circle cx="873.4" cy="317.9" r="5.9" stroke-width="2.3"/>
</g>
<rect x="545.7" y="38.7" width="335.0" height="317.3" fill="none" stroke="#000" stroke-width="2.5"/>
<text x="706.7" y="403" font-size="18.3" text-anchor="middle"><tspan font-style="italic">H</tspan> (r.l.u.)</text>
<text x="480" y="197.9" font-size="18.3" text-anchor="middle" transform="rotate(-90 480 197.9)">Diffracted intensity</text>
<text x="3" y="450.2" font-size="26" font-weight="bold">b</text>
<line x1="130.9" y1="448.5" x2="130.9" y2="764.5" stroke="#e0141e" stroke-width="2.7" stroke-dasharray="6.6 6.6"/>
<line x1="264.5" y1="597.6" x2="264.5" y2="764.5" stroke="#33dd33" stroke-width="2.7" stroke-dasharray="6.6 6.6"/>
<line x1="80.8" y1="516.5" x2="80.8" y2="562.7" stroke="#000" stroke-width="1.8"/>
<line x1="73.5" y1="516.5" x2="88.1" y2="516.5" stroke="#000" stroke-width="1.8"/>
<line x1="73.5" y1="562.7" x2="88.1" y2="562.7" stroke="#000" stroke-width="1.8"/>
<rect x="73.8" y="532.3" width="14" height="14" rx="2.8" fill="#000"/>
<line x1="92.0" y1="490.4" x2="92.0" y2="536.7" stroke="#000" stroke-width="1.8"/>
<line x1="84.7" y1="490.4" x2="99.3" y2="490.4" stroke="#000" stroke-width="1.8"/>
<line x1="84.7" y1="536.7" x2="99.3" y2="536.7" stroke="#000" stroke-width="1.8"/>
<rect x="85.0" y="506.6" width="14" height="14" rx="2.8" fill="#000"/>
<line x1="125.4" y1="452.9" x2="125.4" y2="499.0" stroke="#000" stroke-width="1.8"/>
<line x1="118.1" y1="452.9" x2="132.7" y2="452.9" stroke="#000" stroke-width="1.8"/>
<line x1="118.1" y1="499.0" x2="132.7" y2="499.0" stroke="#000" stroke-width="1.8"/>
<rect x="118.4" y="468.8" width="14" height="14" rx="2.8" fill="#000"/>
<line x1="158.8" y1="488.5" x2="158.8" y2="517.1" stroke="#000" stroke-width="1.8"/>
<line x1="151.5" y1="488.5" x2="166.1" y2="488.5" stroke="#000" stroke-width="1.8"/>
<line x1="151.5" y1="517.1" x2="166.1" y2="517.1" stroke="#000" stroke-width="1.8"/>
<rect x="151.8" y="495.8" width="14" height="14" rx="2.8" fill="#000"/>
<line x1="192.2" y1="496.1" x2="192.2" y2="542.4" stroke="#000" stroke-width="1.8"/>
<line x1="184.9" y1="496.1" x2="199.5" y2="496.1" stroke="#000" stroke-width="1.8"/>
<line x1="184.9" y1="542.4" x2="199.5" y2="542.4" stroke="#000" stroke-width="1.8"/>
<rect x="185.2" y="512.0" width="14" height="14" rx="2.8" fill="#000"/>
<line x1="225.6" y1="484.1" x2="225.6" y2="512.7" stroke="#000" stroke-width="1.8"/>
<line x1="218.3" y1="484.1" x2="232.9" y2="484.1" stroke="#000" stroke-width="1.8"/>
<line x1="218.3" y1="512.7" x2="232.9" y2="512.7" stroke="#000" stroke-width="1.8"/>
<rect x="218.6" y="491.6" width="14" height="14" rx="2.8" fill="#000"/>
<line x1="247.8" y1="549.5" x2="247.8" y2="578.4" stroke="#000" stroke-width="1.8"/>
<line x1="240.5" y1="549.5" x2="255.1" y2="549.5" stroke="#000" stroke-width="1.8"/>
<line x1="240.5" y1="578.4" x2="255.1" y2="578.4" stroke="#000" stroke-width="1.8"/>
<rect x="240.8" y="557.2" width="14" height="14" rx="2.8" fill="#000"/>
<line x1="270.1" y1="603.5" x2="270.1" y2="649.4" stroke="#000" stroke-width="1.8"/>
<line x1="262.8" y1="603.5" x2="277.4" y2="603.5" stroke="#000" stroke-width="1.8"/>
<line x1="262.8" y1="649.4" x2="277.4" y2="649.4" stroke="#000" stroke-width="1.8"/>
<rect x="263.1" y="620.1" width="14" height="14" rx="2.8" fill="#000"/>
<line x1="292.4" y1="661.4" x2="292.4" y2="690.2" stroke="#000" stroke-width="1.8"/>
<line x1="285.1" y1="661.4" x2="299.7" y2="661.4" stroke="#000" stroke-width="1.8"/>
<line x1="285.1" y1="690.2" x2="299.7" y2="690.2" stroke="#000" stroke-width="1.8"/>
<rect x="285.4" y="668.9" width="14" height="14" rx="2.8" fill="#000"/>
<line x1="314.6" y1="750.0" x2="314.6" y2="764.5" stroke="#000" stroke-width="1.8"/>
<line x1="307.3" y1="750.0" x2="321.9" y2="750.0" stroke="#000" stroke-width="1.8"/>
<rect x="307.6" y="757.5" width="14" height="14" rx="2.8" fill="#000"/>
<line x1="348.0" y1="750.0" x2="348.0" y2="764.5" stroke="#000" stroke-width="1.8"/>
<line x1="340.7" y1="750.0" x2="355.3" y2="750.0" stroke="#000" stroke-width="1.8"/>
<rect x="341.0" y="757.5" width="14" height="14" rx="2.8" fill="#000"/>
<line x1="403.7" y1="750.0" x2="403.7" y2="764.5" stroke="#000" stroke-width="1.8"/>
<line x1="396.4" y1="750.0" x2="411.0" y2="750.0" stroke="#000" stroke-width="1.8"/>
<rect x="396.7" y="757.5" width="14" height="14" rx="2.8" fill="#000"/>
<path d="M403.9,447.5 H69.5 V764.5 H403.9" fill="none" stroke="#000" stroke-width="2.5"/>
<line x1="403.9" y1="447.5" x2="403.9" y2="764.5" stroke="#000" stroke-width="2.3"/>
<text x="60.9" y="771.5" font-size="18.3" text-anchor="end">0</text>
<line x1="69.5" y1="706.7" x2="85.5" y2="706.7" stroke="#000" stroke-width="2.5"/>
<text x="60.9" y="713.7" font-size="18.3" text-anchor="end">0.2</text>
<line x1="69.5" y1="648.9" x2="85.5" y2="648.9" stroke="#000" stroke-width="2.5"/>
<text x="60.9" y="655.9" font-size="18.3" text-anchor="end">0.4</text>
<line x1="69.5" y1="591.1" x2="85.5" y2="591.1" stroke="#000" stroke-width="2.5"/>
<text x="60.9" y="598.0999999999999" font-size="18.3" text-anchor="end">0.6</text>
<line x1="69.5" y1="533.3" x2="85.5" y2="533.3" stroke="#000" stroke-width="2.5"/>
<text x="60.9" y="540.3" font-size="18.3" text-anchor="end">0.8</text>
<line x1="69.5" y1="475.5" x2="85.5" y2="475.5" stroke="#000" stroke-width="2.5"/>
<text x="60.9" y="482.5" font-size="18.3" text-anchor="end">1</text>
<text x="69.7" y="791" font-size="18.3" text-anchor="middle">0</text>
<line x1="125.4" y1="764.5" x2="125.4" y2="748.0" stroke="#000" stroke-width="2.5"/>
<text x="125.36500000000001" y="791" font-size="18.3" text-anchor="middle">50</text>
<line x1="181.0" y1="764.5" x2="181.0" y2="748.0" stroke="#000" stroke-width="2.5"/>
<text x="181.03" y="791" font-size="18.3" text-anchor="middle">100</text>
<line x1="236.7" y1="764.5" x2="236.7" y2="748.0" stroke="#000" stroke-width="2.5"/>
<text x="236.695" y="791" font-size="18.3" text-anchor="middle">150</text>
<line x1="292.4" y1="764.5" x2="292.4" y2="748.0" stroke="#000" stroke-width="2.5"/>
<text x="292.36" y="791" font-size="18.3" text-anchor="middle">200</text>
<line x1="348.0" y1="764.5" x2="348.0" y2="748.0" stroke="#000" stroke-width="2.5"/>
<text x="348.025" y="791" font-size="18.3" text-anchor="middle">250</text>
<text x="403.69" y="791" font-size="18.3" text-anchor="middle">300</text>
<text x="237.2" y="815.5" font-size="18.3" text-anchor="middle">Temperature (K)</text>
<text x="20.8" y="606.5" font-size="18.3" text-anchor="middle" transform="rotate(-90 20.8 606.5)">Normalized diffracted intensity</text>
<text x="139" y="671.8" font-size="18.5" fill="#d41426" font-style="italic">T</text>
<text x="148.3" y="677.8" font-size="13.5" fill="#d41426">c</text>
<text x="220" y="717.8" font-size="18.5" fill="#33dd33" font-style="italic">T</text>
<text x="229.6" y="722.9" font-size="13.5" fill="#33dd33">m</text>
<path d="M271.2,446.5 C271.8,447.2 273.4,449.3 274.5,450.5 C275.6,451.7 276.0,452.4 277.7,453.7 C279.4,454.9 282.1,456.8 284.5,458.0 C286.9,459.2 289.7,460.0 292.3,461.0 C294.9,462.0 297.7,462.7 300.1,463.9 C302.6,465.1 304.7,466.6 307.0,468.3 C309.3,470.0 311.5,472.0 313.8,474.1 C316.1,476.2 318.5,478.6 320.6,481.0 C322.7,483.4 324.7,486.2 326.5,488.8 C328.3,491.4 329.9,493.8 331.3,496.6 C332.8,499.4 334.0,502.4 335.2,505.4 C336.4,508.4 337.6,511.7 338.5,514.6 C339.4,517.5 340.0,519.9 340.8,523.0 C341.6,526.1 342.5,529.3 343.2,533.0 C343.9,536.7 344.4,541.2 345.0,545.0 C345.6,548.8 345.9,552.3 346.5,556.0 C347.1,559.7 347.8,564.2 348.5,567.0 C349.2,569.8 349.6,571.0 351.0,572.5 C352.4,574.0 354.7,575.1 357.0,575.9 C359.3,576.6 362.4,576.8 365.0,577.0 C367.6,577.2 366.0,577.2 372.3,577.4 C378.6,577.6 397.9,578.1 403.0,578.2" fill="none" stroke="#e8141c" stroke-width="3.4"/>
<path d="M340.3,521.0 C340.6,522.5 341.6,526.8 342.2,530.0 C342.8,533.2 343.1,536.7 343.6,540.0 C344.1,543.3 344.5,546.7 345.0,550.0 C345.5,553.3 346.0,556.8 346.5,560.0 C347.0,563.2 347.5,566.0 348.0,569.0 C348.5,572.0 349.2,576.5 349.5,578.0" fill="none" stroke="#44dd33" stroke-width="3.2" stroke-dasharray="5 5"/>
<path d="M270.6,578.2 C272.6,578.2 280.2,578.7 282.5,578.2 C284.8,577.8 283.9,577.2 284.5,575.5 C285.1,573.8 285.4,571.2 286.0,568.0 C286.6,564.8 287.3,561.0 288.0,556.0 C288.7,551.0 289.6,543.3 290.3,538.0 C291.0,532.7 291.6,528.5 292.3,524.0 C293.0,519.5 293.5,514.5 294.3,511.0 C295.1,507.5 296.1,505.1 297.0,503.0 C297.9,500.9 299.0,499.8 300.0,498.5 C301.0,497.2 301.5,496.2 303.0,495.1 C304.5,494.0 306.8,492.8 308.9,491.7 C311.0,490.6 313.3,489.6 315.7,488.3 C318.1,487.0 320.9,485.5 323.5,483.9 C326.1,482.3 328.9,479.9 331.3,478.5 C333.8,477.1 335.8,476.4 338.2,475.4 C340.6,474.4 342.5,473.8 345.5,472.4 C348.5,471.0 352.6,468.6 356.1,467.0 C359.6,465.4 363.1,464.2 366.5,462.8 C369.9,461.4 373.4,460.0 376.8,458.7 C380.2,457.4 383.7,456.1 387.2,455.0 C390.7,453.9 394.8,453.0 397.6,452.4 C400.4,451.8 402.8,451.4 403.8,451.2" fill="none" stroke="#1010e0" stroke-width="3.4"/>
<line x1="297.7" y1="479.5" x2="283" y2="578" stroke="#000" stroke-width="2.6" stroke-dasharray="6 5"/>
<line x1="277.2" y1="506.3" x2="341.1" y2="471.7" stroke="#000" stroke-width="2.6" stroke-dasharray="6 5"/>
<line x1="350.9" y1="460.5" x2="337.5" y2="460.5" stroke="#1010e0" stroke-width="2"/>
<polygon points="323.0,460.5 338.5,456.5 338.5,464.5" fill="#1010e0"/>
<line x1="352.4" y1="524.1" x2="366.2" y2="524.1" stroke="#e8141c" stroke-width="2"/>
<polygon points="380.7,524.1 365.2,520.1 365.2,528.1" fill="#e8141c"/>
<path d="M270.6,447.5 V578.2 H403.9" fill="none" stroke="#000" stroke-width="2.5"/>
<line x1="292.7" y1="578.2" x2="292.7" y2="570.5" stroke="#000" stroke-width="2.5"/>
<line x1="314.8" y1="578.2" x2="314.8" y2="563.7" stroke="#000" stroke-width="2.5"/>
<line x1="336.9" y1="578.2" x2="336.9" y2="570.5" stroke="#000" stroke-width="2.5"/>
<line x1="359.0" y1="578.2" x2="359.0" y2="563.7" stroke="#000" stroke-width="2.5"/>
<line x1="381.1" y1="578.2" x2="381.1" y2="570.5" stroke="#000" stroke-width="2.5"/>
<text x="270.6" y="597" font-size="14.5" text-anchor="middle">0</text>
<text x="313.28000000000003" y="597" font-size="14.5" text-anchor="middle">100</text>
<text x="357.46000000000004" y="597" font-size="14.5" text-anchor="middle">200</text>
<text x="332.8" y="615" font-size="15" text-anchor="middle"><tspan font-style="italic">T</tspan> (K)</text>
<text x="408.7" y="583.2" font-size="18.3">0</text>
<line x1="403.9" y1="554.8" x2="396.4" y2="554.8" stroke="#000" stroke-width="2.5"/>
<line x1="403.9" y1="532.9" x2="388.9" y2="532.9" stroke="#000" stroke-width="2.5"/>
<text x="408.7" y="539.44" font-size="18.3">200</text>
<line x1="403.9" y1="511.1" x2="396.4" y2="511.1" stroke="#000" stroke-width="2.5"/>
<line x1="403.9" y1="489.2" x2="388.9" y2="489.2" stroke="#000" stroke-width="2.5"/>
<text x="408.7" y="495.68000000000006" font-size="18.3">400</text>
<line x1="403.9" y1="467.3" x2="396.4" y2="467.3" stroke="#000" stroke-width="2.5"/>
<text x="277.5" y="477.6" font-size="16" fill="#e8141c" font-style="italic">T</text>
<text x="284.5" y="482.4" font-size="11.5" fill="#e8141c">c</text>
<text x="316" y="556" font-size="16" fill="#33dd33" font-style="italic">T</text>
<text x="324" y="561.3" font-size="11.5" fill="#33dd33">m</text>
<text x="459" y="514.5" font-size="18.4" text-anchor="middle" transform="rotate(-90 459 514.5)">Mag. (e.m.u. cm<tspan dy="-7" font-size="12.5">−3</tspan><tspan dy="7">)</tspan></text>
<text x="245.8" y="507.2" font-size="15.4" text-anchor="middle" transform="rotate(-90 245.8 507.2)">Resistivity</text>
<text x="261.5" y="507.5" font-size="15.4" text-anchor="middle" transform="rotate(-90 261.5 507.5)">(a.u.)</text>
<text x="482.8" y="450.2" font-size="26" font-weight="bold">d</text>
<line x1="623.6" y1="448.5" x2="623.6" y2="764.5" stroke="#e0141e" stroke-width="2.7" stroke-dasharray="6.6 6.6"/>
<line x1="740.5" y1="597.6" x2="740.5" y2="764.5" stroke="#33dd33" stroke-width="2.7" stroke-dasharray="6.6 6.6"/>
<line x1="556.8" y1="510.5" x2="556.8" y2="539.0" stroke="#000" stroke-width="1.8"/>
<line x1="549.5" y1="510.5" x2="564.1" y2="510.5" stroke="#000" stroke-width="1.8"/>
<line x1="549.5" y1="539.0" x2="564.1" y2="539.0" stroke="#000" stroke-width="1.8"/>
<rect x="549.8" y="517.9" width="14" height="14" rx="2.8" fill="#000"/>
<line x1="568.0" y1="510.2" x2="568.0" y2="538.8" stroke="#000" stroke-width="1.8"/>
<line x1="560.7" y1="510.2" x2="575.3" y2="510.2" stroke="#000" stroke-width="1.8"/>
<line x1="560.7" y1="538.8" x2="575.3" y2="538.8" stroke="#000" stroke-width="1.8"/>
<rect x="561.0" y="517.9" width="14" height="14" rx="2.8" fill="#000"/>
<line x1="590.2" y1="495.3" x2="590.2" y2="523.9" stroke="#000" stroke-width="1.8"/>
<line x1="582.9" y1="495.3" x2="597.5" y2="495.3" stroke="#000" stroke-width="1.8"/>
<line x1="582.9" y1="523.9" x2="597.5" y2="523.9" stroke="#000" stroke-width="1.8"/>
<rect x="583.2" y="502.8" width="14" height="14" rx="2.8" fill="#000"/>
<line x1="612.5" y1="493.3" x2="612.5" y2="522.3" stroke="#000" stroke-width="1.8"/>
<line x1="605.2" y1="493.3" x2="619.8" y2="493.3" stroke="#000" stroke-width="1.8"/>
<line x1="605.2" y1="522.3" x2="619.8" y2="522.3" stroke="#000" stroke-width="1.8"/>
<rect x="605.5" y="500.6" width="14" height="14" rx="2.8" fill="#000"/>
<line x1="623.6" y1="455.8" x2="623.6" y2="496.6" stroke="#000" stroke-width="1.8"/>
<line x1="616.3" y1="455.8" x2="630.9" y2="455.8" stroke="#000" stroke-width="1.8"/>
<line x1="616.3" y1="496.6" x2="630.9" y2="496.6" stroke="#000" stroke-width="1.8"/>
<rect x="616.6" y="468.8" width="14" height="14" rx="2.8" fill="#000"/>
<line x1="634.8" y1="480.6" x2="634.8" y2="509.1" stroke="#000" stroke-width="1.8"/>
<line x1="627.5" y1="480.6" x2="642.1" y2="480.6" stroke="#000" stroke-width="1.8"/>
<line x1="627.5" y1="509.1" x2="642.1" y2="509.1" stroke="#000" stroke-width="1.8"/>
<rect x="627.8" y="487.9" width="14" height="14" rx="2.8" fill="#000"/>
<line x1="645.9" y1="507.0" x2="645.9" y2="535.5" stroke="#000" stroke-width="1.8"/>
<line x1="638.6" y1="507.0" x2="653.2" y2="507.0" stroke="#000" stroke-width="1.8"/>
<line x1="638.6" y1="535.5" x2="653.2" y2="535.5" stroke="#000" stroke-width="1.8"/>
<rect x="638.9" y="514.2" width="14" height="14" rx="2.8" fill="#000"/>
<line x1="668.2" y1="524.1" x2="668.2" y2="564.7" stroke="#000" stroke-width="1.8"/>
<line x1="660.9" y1="524.1" x2="675.5" y2="524.1" stroke="#000" stroke-width="1.8"/>
<line x1="660.9" y1="564.7" x2="675.5" y2="564.7" stroke="#000" stroke-width="1.8"/>
<rect x="661.2" y="537.7" width="14" height="14" rx="2.8" fill="#000"/>
<line x1="690.4" y1="520.1" x2="690.4" y2="548.7" stroke="#000" stroke-width="1.8"/>
<line x1="683.1" y1="520.1" x2="697.7" y2="520.1" stroke="#000" stroke-width="1.8"/>
<line x1="683.1" y1="548.7" x2="697.7" y2="548.7" stroke="#000" stroke-width="1.8"/>
<rect x="683.4" y="527.4" width="14" height="14" rx="2.8" fill="#000"/>
<line x1="712.7" y1="564.2" x2="712.7" y2="610.2" stroke="#000" stroke-width="1.8"/>
<line x1="705.4" y1="564.2" x2="720.0" y2="564.2" stroke="#000" stroke-width="1.8"/>
<line x1="705.4" y1="610.2" x2="720.0" y2="610.2" stroke="#000" stroke-width="1.8"/>
<rect x="705.7" y="580.0" width="14" height="14" rx="2.8" fill="#000"/>
<line x1="735.0" y1="632.6" x2="735.0" y2="661.8" stroke="#000" stroke-width="1.8"/>
<line x1="727.7" y1="632.6" x2="742.3" y2="632.6" stroke="#000" stroke-width="1.8"/>
<line x1="727.7" y1="661.8" x2="742.3" y2="661.8" stroke="#000" stroke-width="1.8"/>
<rect x="728.0" y="640.3" width="14" height="14" rx="2.8" fill="#000"/>
<line x1="757.2" y1="673.5" x2="757.2" y2="702.2" stroke="#000" stroke-width="1.8"/>
<line x1="749.9" y1="673.5" x2="764.5" y2="673.5" stroke="#000" stroke-width="1.8"/>
<line x1="749.9" y1="702.2" x2="764.5" y2="702.2" stroke="#000" stroke-width="1.8"/>
<rect x="750.2" y="681.2" width="14" height="14" rx="2.8" fill="#000"/>
<line x1="768.4" y1="699.5" x2="768.4" y2="728.5" stroke="#000" stroke-width="1.8"/>
<line x1="761.1" y1="699.5" x2="775.7" y2="699.5" stroke="#000" stroke-width="1.8"/>
<line x1="761.1" y1="728.5" x2="775.7" y2="728.5" stroke="#000" stroke-width="1.8"/>
<rect x="761.4" y="707.2" width="14" height="14" rx="2.8" fill="#000"/>
<line x1="779.5" y1="722.8" x2="779.5" y2="764.5" stroke="#000" stroke-width="1.8"/>
<line x1="772.2" y1="722.8" x2="786.8" y2="722.8" stroke="#000" stroke-width="1.8"/>
<rect x="772.5" y="744.8" width="14" height="14" rx="2.8" fill="#000"/>
<line x1="801.8" y1="750.0" x2="801.8" y2="764.5" stroke="#000" stroke-width="1.8"/>
<line x1="794.5" y1="750.0" x2="809.1" y2="750.0" stroke="#000" stroke-width="1.8"/>
<rect x="794.8" y="757.5" width="14" height="14" rx="2.8" fill="#000"/>
<line x1="824.0" y1="750.0" x2="824.0" y2="764.5" stroke="#000" stroke-width="1.8"/>
<line x1="816.7" y1="750.0" x2="831.3" y2="750.0" stroke="#000" stroke-width="1.8"/>
<rect x="817.0" y="757.5" width="14" height="14" rx="2.8" fill="#000"/>
<line x1="846.3" y1="750.0" x2="846.3" y2="764.5" stroke="#000" stroke-width="1.8"/>
<line x1="839.0" y1="750.0" x2="853.6" y2="750.0" stroke="#000" stroke-width="1.8"/>
<rect x="839.3" y="757.5" width="14" height="14" rx="2.8" fill="#000"/>
<path d="M879.6,447.5 H545.6 V764.5 H879.6" fill="none" stroke="#000" stroke-width="2.5"/>
<line x1="879.6" y1="447.5" x2="879.6" y2="764.5" stroke="#000" stroke-width="2.3"/>
<text x="535.4" y="771.5" font-size="18.3" text-anchor="end">0</text>
<line x1="545.6" y1="706.7" x2="561.6" y2="706.7" stroke="#000" stroke-width="2.5"/>
<text x="535.4" y="713.7" font-size="18.3" text-anchor="end">0.2</text>
<line x1="545.6" y1="648.9" x2="561.6" y2="648.9" stroke="#000" stroke-width="2.5"/>
<text x="535.4" y="655.9" font-size="18.3" text-anchor="end">0.4</text>
<line x1="545.6" y1="591.1" x2="561.6" y2="591.1" stroke="#000" stroke-width="2.5"/>
<text x="535.4" y="598.0999999999999" font-size="18.3" text-anchor="end">0.6</text>
<line x1="545.6" y1="533.3" x2="561.6" y2="533.3" stroke="#000" stroke-width="2.5"/>
<text x="535.4" y="540.3" font-size="18.3" text-anchor="end">0.8</text>
<line x1="545.6" y1="475.5" x2="561.6" y2="475.5" stroke="#000" stroke-width="2.5"/>
<text x="535.4" y="482.5" font-size="18.3" text-anchor="end">1</text>
<text x="545.7" y="790.5" font-size="18.3" text-anchor="middle">0</text>
<line x1="601.4" y1="764.5" x2="601.4" y2="748.0" stroke="#000" stroke-width="2.5"/>
<text x="601.365" y="790.5" font-size="18.3" text-anchor="middle">50</text>
<line x1="657.0" y1="764.5" x2="657.0" y2="748.0" stroke="#000" stroke-width="2.5"/>
<text x="657.0300000000001" y="790.5" font-size="18.3" text-anchor="middle">100</text>
<line x1="712.7" y1="764.5" x2="712.7" y2="748.0" stroke="#000" stroke-width="2.5"/>
<text x="712.695" y="790.5" font-size="18.3" text-anchor="middle">150</text>
<line x1="768.4" y1="764.5" x2="768.4" y2="748.0" stroke="#000" stroke-width="2.5"/>
<text x="768.36" y="790.5" font-size="18.3" text-anchor="middle">200</text>
<line x1="824.0" y1="764.5" x2="824.0" y2="748.0" stroke="#000" stroke-width="2.5"/>
<text x="824.0250000000001" y="790.5" font-size="18.3" text-anchor="middle">250</text>
<text x="879.69" y="790.5" font-size="18.3" text-anchor="middle">300</text>
<text x="718.4" y="815.5" font-size="18.3" text-anchor="middle">Temperature (K)</text>
<text x="496.5" y="606.5" font-size="18.3" text-anchor="middle" transform="rotate(-90 496.5 606.5)">Normalized diffracted intensity</text>
<text x="635" y="664.2" font-size="18.5" fill="#d41426" font-style="italic">T</text>
<text x="645.2" y="670.2" font-size="13.5" fill="#d41426">c</text>
<text x="692.8" y="711.7" font-size="18.5" fill="#33dd33" font-style="italic">T</text>
<text x="702.3" y="717.1" font-size="13.5" fill="#33dd33">m</text>
<path d="M747.3,446.6 C750.1,447.3 758.6,448.6 764.0,450.6 C769.4,452.6 775.0,455.1 779.9,458.6 C784.8,462.1 789.2,466.9 793.2,471.8 C797.2,476.7 800.7,482.5 803.8,487.8 C806.9,493.1 809.7,498.4 811.7,503.7 C813.7,509.0 814.6,513.4 815.7,519.6 C816.8,525.8 817.3,533.3 818.4,540.8 C819.5,548.3 820.8,559.2 822.4,564.7 C824.0,570.2 824.2,572.0 827.7,574.0 C831.2,576.0 835.2,576.0 843.6,576.6 C852.0,577.2 872.4,577.3 878.1,577.4" fill="none" stroke="#e8141c" stroke-width="3.4"/>
<path d="M813.0,515.6 C813.4,517.2 814.8,521.3 815.5,525.0 C816.2,528.7 816.8,533.8 817.5,538.0 C818.2,542.2 818.8,546.0 819.5,550.0 C820.2,554.0 820.8,558.0 821.5,562.0 C822.2,566.0 823.3,572.0 823.7,574.0" fill="none" stroke="#44dd33" stroke-width="3.2" stroke-dasharray="5 5"/>
<path d="M747.3,577.4 C749.9,577.4 759.5,579.1 762.7,577.4 C765.9,575.7 765.3,574.8 766.6,567.4 C767.9,560.0 769.3,543.5 770.6,532.9 C771.9,522.3 773.1,510.3 774.6,503.7 C776.1,497.1 777.6,495.5 779.4,493.1 C781.2,490.7 781.6,490.9 785.2,489.1 C788.8,487.3 794.9,484.9 801.1,482.5 C807.3,480.1 815.3,477.4 822.4,474.5 C829.5,471.6 836.5,468.1 843.6,465.2 C850.7,462.3 858.9,459.1 864.8,457.2 C870.7,455.2 876.6,454.1 879.0,453.5" fill="none" stroke="#1010e0" stroke-width="3.4"/>
<line x1="778.6" y1="471.8" x2="766.6" y2="572.7" stroke="#000" stroke-width="2.6" stroke-dasharray="6 5"/>
<line x1="750.7" y1="501.6" x2="779.9" y2="490.4" stroke="#000" stroke-width="2.6" stroke-dasharray="6 5"/>
<line x1="827.7" y1="461.2" x2="815.6" y2="461.2" stroke="#1010e0" stroke-width="2"/>
<polygon points="801.1,461.2 816.6,457.2 816.6,465.2" fill="#1010e0"/>
<line x1="830.3" y1="525.4" x2="843.7" y2="525.4" stroke="#e8141c" stroke-width="2"/>
<polygon points="858.2,525.4 842.7,521.4 842.7,529.4" fill="#e8141c"/>
<path d="M747.3,447.5 V577.4 H879.6" fill="none" stroke="#000" stroke-width="2.5"/>
<line x1="769.3" y1="577.4" x2="769.3" y2="569.7" stroke="#000" stroke-width="2.5"/>
<line x1="791.4" y1="577.4" x2="791.4" y2="562.9" stroke="#000" stroke-width="2.5"/>
<line x1="813.4" y1="577.4" x2="813.4" y2="569.7" stroke="#000" stroke-width="2.5"/>
<line x1="835.5" y1="577.4" x2="835.5" y2="562.9" stroke="#000" stroke-width="2.5"/>
<line x1="857.5" y1="577.4" x2="857.5" y2="569.7" stroke="#000" stroke-width="2.5"/>
<text x="747.3" y="594.2" font-size="14.5" text-anchor="middle">0</text>
<text x="789.88" y="594.2" font-size="14.5" text-anchor="middle">100</text>
<text x="833.9599999999999" y="594.2" font-size="14.5" text-anchor="middle">200</text>
<text x="814" y="612.2" font-size="15" text-anchor="middle"><tspan font-style="italic">T</tspan> (K)</text>
<text x="886.2" y="582.2" font-size="18.3">0</text>
<line x1="879.6" y1="557.4" x2="872.1" y2="557.4" stroke="#000" stroke-width="2.5"/>
<line x1="879.6" y1="539.0" x2="864.6" y2="539.0" stroke="#000" stroke-width="2.5"/>
<text x="886.2" y="545.5400000000001" font-size="18.3">200</text>
<line x1="879.6" y1="520.7" x2="872.1" y2="520.7" stroke="#000" stroke-width="2.5"/>
<line x1="879.6" y1="502.4" x2="864.6" y2="502.4" stroke="#000" stroke-width="2.5"/>
<text x="886.2" y="508.88000000000005" font-size="18.3">400</text>
<line x1="879.6" y1="484.1" x2="872.1" y2="484.1" stroke="#000" stroke-width="2.5"/>
<line x1="879.6" y1="465.7" x2="864.6" y2="465.7" stroke="#000" stroke-width="2.5"/>
<text x="886.2" y="472.22" font-size="18.3">600</text>
<text x="753" y="477.1" font-size="16" fill="#e8141c" font-style="italic">T</text>
<text x="761.8" y="482.3" font-size="11.5" fill="#e8141c">c</text>
<text x="791" y="556.7" font-size="16" fill="#33dd33" font-style="italic">T</text>
<text x="799.5" y="560.7" font-size="11.5" fill="#33dd33">m</text>
<text x="943.5" y="514.5" font-size="18.4" text-anchor="middle" transform="rotate(-90 943.5 514.5)">Mag. (e.m.u. cm<tspan dy="-7" font-size="12.5">−3</tspan><tspan dy="7">)</tspan></text>
<text x="735.7" y="513.3" font-size="15.4" text-anchor="middle" transform="rotate(-90 735.7 513.3)">Resistivity (a.u.)</text>
</svg></body></html>
